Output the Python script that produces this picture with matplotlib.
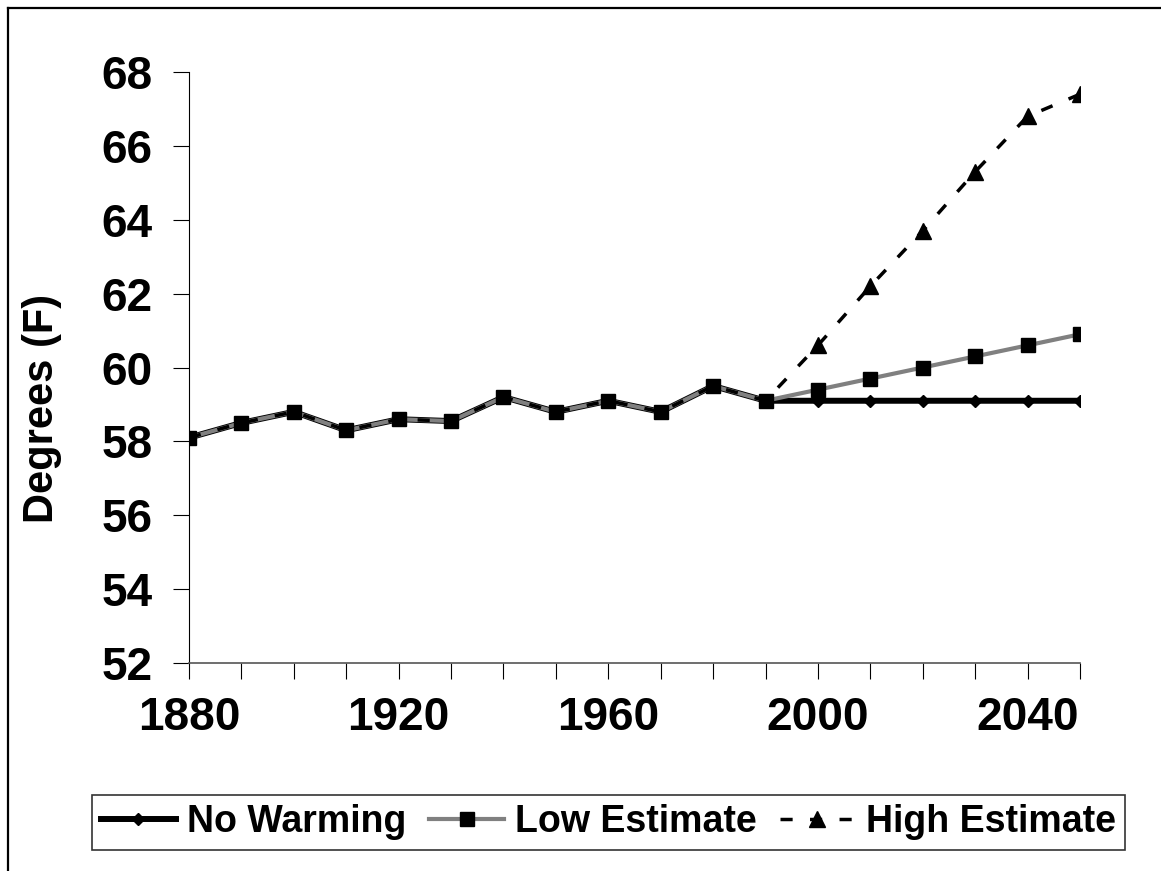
import matplotlib.pyplot as plt
from matplotlib.lines import Line2D

plt.rcParams["font.family"] = ["Liberation Sans", "DejaVu Sans"]
plt.rcParams["font.weight"] = "bold"

years = [1880, 1890, 1900, 1910, 1920, 1930, 1940, 1950, 1960, 1970, 1980, 1990,
         2000, 2010, 2020, 2030, 2040, 2050]
history = [58.1, 58.5, 58.8, 58.3, 58.6, 58.55, 59.2, 58.8, 59.1, 58.8, 59.5, 59.1]
no_warming = history + [59.1, 59.1, 59.1, 59.1, 59.1, 59.1]
low_est = history + [59.4, 59.7, 60.0, 60.3, 60.6, 60.9]
high_est = history + [60.6, 62.2, 63.7, 65.3, 66.8, 67.4]
year_labels = [1880, 1920, 1960, 2000, 2040]
deg_ticks = [52, 54, 56, 58, 60, 62, 64, 66, 68]

fig = plt.figure(figsize=(11.61, 8.71), dpi=100)
ax = fig.add_axes([0.1628, 0.2388, 0.9302 - 0.1628, 0.9173 - 0.2388])

ax.plot(years, no_warming, color="black", lw=4.3, marker="D", ms=6,
        label="No Warming", zorder=3)
ax.plot(years, low_est, color="#808080", lw=3, marker="s", ms=9.5,
        mfc="black", mec="black", label="Low Estimate", zorder=4)
ax.plot(years, high_est, color="black", lw=2.5, dashes=(3.5, 5), marker="^", ms=11,
        markevery=list(range(12, 18)), label="High Estimate", zorder=5)

ax.set_xlim(1880, 2050)
ax.set_ylim(52, 68)
ax.set_xticks(years)
ax.set_xticklabels([str(y) if y in year_labels else "" for y in years])
ax.set_yticks(deg_ticks)
ax.tick_params(axis="both", direction="out", length=11.5, width=0.8,
               labelsize=33, color="black")
ax.tick_params(axis="y", pad=15)
ax.tick_params(axis="x", pad=12)
for lab in ax.get_xticklabels() + ax.get_yticklabels():
    lab.set_fontweight("bold")

ax.spines["top"].set_visible(False)
ax.spines["right"].set_visible(False)
ax.spines["left"].set_linewidth(0.8)
ax.spines["bottom"].set_color("#555555")
ax.spines["bottom"].set_linewidth(1.2)

ax.set_ylabel("Degrees (F)", fontsize=30, fontweight="bold")
ax.yaxis.set_label_coords(-0.143, 0.43)

leg = fig.legend(loc="center", bbox_to_anchor=(0.524, 0.0557), ncol=3,
                 fontsize=27, frameon=True, fancybox=False, edgecolor="black",
                 handlelength=2.0, handletextpad=0.3, columnspacing=0.6,
                 borderpad=0.25, borderaxespad=0)
leg.get_frame().set_linewidth(1.2)
for t in leg.get_texts():
    t.set_fontweight("bold")

# outer frame (top and left edges only)
fx = 8 / 1161
fy = 1 - 8 / 871
fig.add_artist(Line2D([fx, 1], [fy, fy], transform=fig.transFigure, color="black", lw=1.6))
fig.add_artist(Line2D([fx, fx], [0, fy], transform=fig.transFigure, color="black", lw=1.6))

fig.savefig("out.png", dpi=100)
